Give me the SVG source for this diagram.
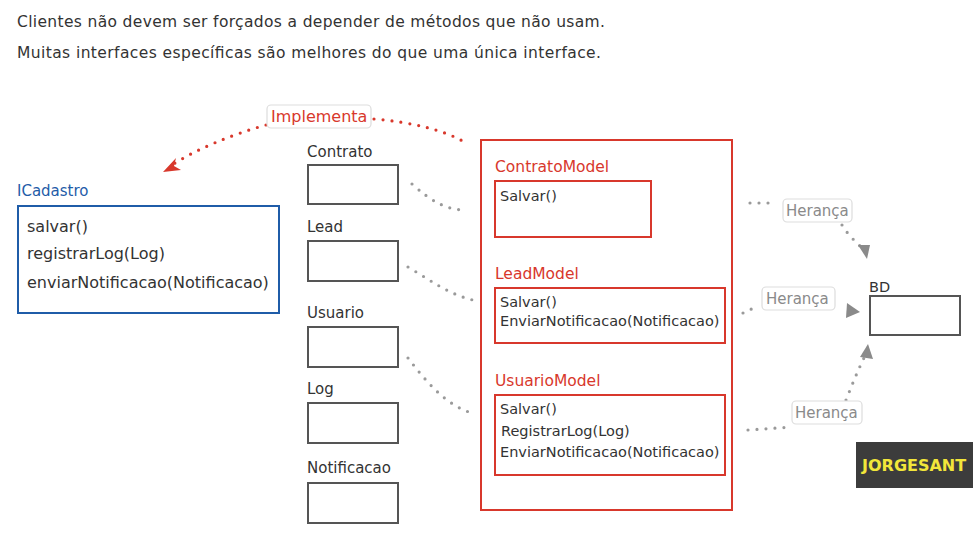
<svg xmlns="http://www.w3.org/2000/svg" width="973" height="540" viewBox="0 0 973 540">
<style>
text{font-family:"DejaVu Sans","Liberation Sans",sans-serif;fill:#333}
.t{font-size:15.5px}
.m{font-size:15px}
.s{font-size:14.5px}
.red{fill:#d8382c}
.blue{fill:#1f5ca8}
.gbox{fill:none;stroke:#555;stroke-width:2}
.rbox{fill:none;stroke:#d8382c;stroke-width:2}
.lbl{fill:#fff;stroke:#ddd;stroke-width:1.2}
.dg{fill:none;stroke:#9a9a9a;stroke-width:3.2;stroke-linecap:round;stroke-dasharray:0 9}
.dr{fill:none;stroke:#d8382c;stroke-width:3.2;stroke-linecap:round;stroke-dasharray:0 9}
.hg{fill:#8a8a8a;font-size:15px}
</style>
<rect width="973" height="540" fill="#fff"/>
<text class="t" x="17" y="27" textLength="588">Clientes não devem ser forçados a depender de métodos que não usam.</text>
<text class="t" x="17" y="58" textLength="584">Muitas interfaces específicas são melhores do que uma única interface.</text>

<g id="connectors">
<path class="dr" d="M266 125 C230 135 195 150 172 165"/>
<path d="M163 172 L176 158 L174 166 L181 170 Z" fill="#d8382c"/>
<path class="dr" d="M374 119 C410 122 445 130 466 143"/>
<path class="dg" d="M412 184 C430 200 445 210 466 210"/>
<path class="dg" d="M408 267 C430 280 450 295 473 300"/>
<path class="dg" d="M408 358 C425 380 445 405 472 413"/>
<path class="dg" d="M750 203 L776 203"/>
<path class="dg" d="M842 225 C848 235 856 242 862 248"/>
<path d="M858 245 L870 245 L867 259 Z" fill="#8a8a8a"/>
<path class="dg" d="M743 313 L758 306"/>
<path d="M847 303 L860 312 L846 318 Z" fill="#8a8a8a"/>
<path class="dg" d="M748 430 L792 427"/>
<path class="dg" d="M846 400 C852 385 858 370 864 358"/>
<path d="M860 357 L868 344 L873 359 Z" fill="#8a8a8a"/>
</g>

<g id="implementa">
<rect class="lbl" x="267" y="105" width="104" height="23" rx="4"/>
<text x="271" y="122" style="fill:#d8382c;font-size:16px">Implementa</text>
</g>

<g id="icadastro">
<text class="m blue" x="17" y="196">ICadastro</text>
<rect x="18" y="206" width="261" height="107" fill="none" stroke="#1f5ca8" stroke-width="2"/>
<text x="27" y="232" style="font-size:16px">salvar()</text>
<text x="27" y="259" style="font-size:16px">registrarLog(Log)</text>
<text x="27" y="288" style="font-size:16px">enviarNotificacao(Notificacao)</text>
</g>

<g id="contrato">
<text class="m" x="307" y="157">Contrato</text>
<rect class="gbox" x="308" y="165" width="90" height="39"/>
</g>
<g id="lead">
<text class="m" x="307" y="232">Lead</text>
<rect class="gbox" x="308" y="241" width="90" height="40"/>
</g>
<g id="usuario">
<text class="m" x="307" y="318">Usuario</text>
<rect class="gbox" x="308" y="327" width="90" height="40"/>
</g>
<g id="log">
<text class="m" x="307" y="394">Log</text>
<rect class="gbox" x="308" y="403" width="90" height="40"/>
</g>
<g id="notificacao">
<text class="m" x="307" y="473">Notificacao</text>
<rect class="gbox" x="308" y="483" width="90" height="40"/>
</g>

<g id="models">
<rect class="rbox" x="481" y="140" width="251" height="370"/>
</g>
<g id="contratoModel">
<text class="red" x="495" y="172" style="font-size:15.5px">ContratoModel</text>
<rect class="rbox" x="495" y="181" width="156" height="56"/>
<text class="s" x="500" y="201">Salvar()</text>
</g>
<g id="leadModel">
<text class="red" x="495" y="279" style="font-size:15.5px">LeadModel</text>
<rect class="rbox" x="495" y="288" width="230" height="55"/>
<text class="s" x="500" y="307">Salvar()</text>
<text class="s" x="500" y="326">EnviarNotificacao(Notificacao)</text>
</g>
<g id="usuarioModel">
<text class="red" x="495" y="386" style="font-size:15.5px">UsuarioModel</text>
<rect class="rbox" x="495" y="395" width="230" height="80"/>
<text class="s" x="500" y="414">Salvar()</text>
<text class="s" x="501" y="436">RegistrarLog(Log)</text>
<text class="s" x="500" y="457">EnviarNotificacao(Notificacao)</text>
</g>

<g id="heranca1">
<rect class="lbl" x="783" y="199" width="69" height="23" rx="4"/>
<text class="hg" x="786" y="216">Herança</text>
</g>
<g id="heranca2">
<rect class="lbl" x="762" y="287" width="73" height="23" rx="4"/>
<text class="hg" x="766" y="304">Herança</text>
</g>
<g id="heranca3">
<rect class="lbl" x="792" y="401" width="70" height="23" rx="4"/>
<text class="hg" x="795" y="418">Herança</text>
</g>

<g id="bd">
<text class="s" x="869" y="292">BD</text>
<rect class="gbox" x="870" y="296" width="90" height="39"/>
</g>

<g id="watermark">
<rect x="856" y="442" width="117" height="46" fill="#3c3c3c"/>
<text x="862" y="471" style="fill:#f2e63a;font-size:16px;font-weight:bold">JORGESANT</text>
</g>
</svg>
